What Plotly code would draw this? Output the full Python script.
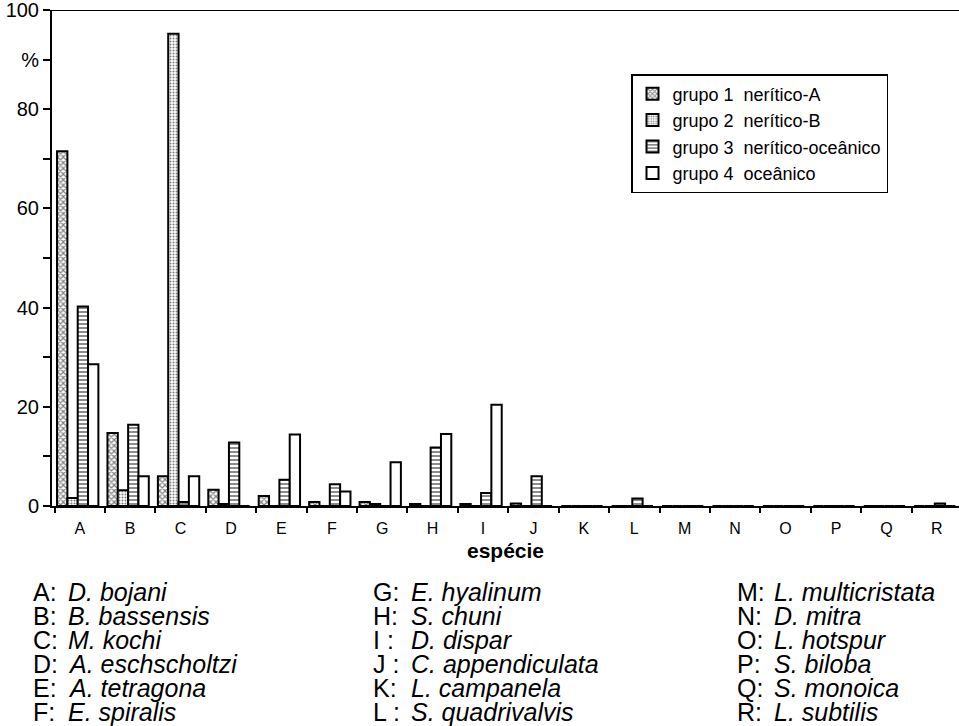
import plotly.graph_objects as go

categories = list("ABCDEFGHIJKLMNOPQR")
grupo1 = [71.5, 14.7, 6.0, 3.3, 2.0, 0.8, 0.8, 0.4, 0.4, 0.5, 0, 0, 0, 0, 0, 0, 0, 0]
grupo2 = [1.6, 3.2, 95.2, 0.4, 0, 0, 0.4, 0, 0, 0, 0, 0, 0, 0, 0, 0, 0, 0]
grupo3 = [40.2, 16.4, 0.8, 12.8, 5.3, 4.4, 0, 11.8, 2.6, 6.0, 0, 1.5, 0, 0, 0, 0, 0, 0.5]
grupo4 = [28.6, 6.0, 6.0, 0, 14.4, 2.9, 8.8, 14.5, 20.4, 0, 0, 0, 0, 0, 0, 0, 0, 0]
series_names = ["grupo 1\u00a0\u00a0nerítico-A", "grupo 2\u00a0\u00a0nerítico-B",
                "grupo 3\u00a0\u00a0nerítico-oceânico", "grupo 4\u00a0\u00a0oceânico"]
species_col1 = [("A:", "D. bojani"), ("B:", "B. bassensis"), ("C:", "M. kochi"),
                ("D:", "A. eschscholtzi"), ("E:", "A. tetragona"), ("F:", "E. spiralis")]
species_col2 = [("G:", "E. hyalinum"), ("H:", "S. chuni"), ("I :", "D. dispar"),
                ("J :", "C. appendiculata"), ("K:", "L. campanela"), ("L :", "S. quadrivalvis")]
species_col3 = [("M:", "L. multicristata"), ("N:", "D. mitra"), ("O:", "L. hotspur"),
                ("P:", "S. biloba"), ("Q:", "S. monoica"), ("R:", "L. subtilis")]
y_tickvals = [0, 10, 20, 30, 40, 50, 60, 70, 80, 90, 100]
y_ticktext = ["0", "", "20", "", "40", "", "60", "", "80", "%", "100"]

FONT = "Liberation Sans, Arial, Helvetica, sans-serif"
W, H = 959, 726
L, R, T, B = 52, 0, 10, 220
PW, PH = W - L - R, H - T - B

def px2x(px):
    return (px - L) / PW

def py2y(py):
    return (H - B - py) / PH

x_idx = list(range(len(categories)))
patterns = [
    dict(shape="x", size=4, solidity=0.5, fgcolor="black", bgcolor="white"),
    dict(shape=".", size=3, solidity=0.35, fgcolor="black", bgcolor="white"),
    dict(shape="-", size=4, solidity=0.45, fgcolor="black", bgcolor="white"),
    dict(shape="", fgcolor="black", bgcolor="white"),
]
offsets = [-0.45, -0.245, -0.04, 0.165]
fig = go.Figure()
for vals, name, pat, off in zip([grupo1, grupo2, grupo3, grupo4], series_names, patterns, offsets):
    fig.add_trace(go.Bar(
        x=x_idx, y=vals, name=name, width=0.205, offset=off,
        marker=dict(color="white", line=dict(color="black", width=2), pattern=pat),
    ))

annotations = []
for col, (lx, nx) in zip([species_col1, species_col2, species_col3],
                         [(31, 66), (371, 409), (735, 772)]):
    for i, (lab, name) in enumerate(col):
        yc = 592 + 24 * i
        annotations.append(dict(x=px2x(lx), y=py2y(yc), xref="paper", yref="paper",
                                text=lab, showarrow=False, xanchor="left", yanchor="middle",
                                font=dict(size=25, family=FONT, color="black")))
        annotations.append(dict(x=px2x(nx), y=py2y(yc), xref="paper", yref="paper",
                                text="<i>" + name + "</i>", showarrow=False, xanchor="left",
                                yanchor="middle", font=dict(size=25, family=FONT, color="black")))

fig.update_layout(
    width=W, height=H, autosize=False,
    margin=dict(l=L, r=R, t=T, b=B, autoexpand=False),
    paper_bgcolor="white", plot_bgcolor="white",
    barmode="overlay",
    font=dict(family=FONT, color="black"),
    showlegend=True,
    legend=dict(x=px2x(631), y=py2y(74), xanchor="left", yanchor="top",
                bordercolor="black", borderwidth=1.5, bgcolor="white",
                font=dict(size=18, family=FONT, color="black"),
                tracegroupgap=0),
    xaxis=dict(range=[-0.55, 17.44], tickmode="array", tickvals=x_idx, ticktext=categories,
               ticks="", ticklabelstandoff=7, showgrid=False, zeroline=False,
               showline=True, linecolor="black", linewidth=2,
               tickfont=dict(size=16, family=FONT, color="black"),
               minor=dict(tick0=-0.5, dtick=1, ticks="outside", ticklen=5, tickwidth=1.5,
                          tickcolor="black", showgrid=False),
               title=dict(text="<b>espécie</b>", font=dict(size=21, family=FONT, color="black"),
                          standoff=7)),
    yaxis=dict(range=[0, 100], tickmode="array", tickvals=y_tickvals, ticktext=y_ticktext,
               ticks="outside", ticklen=7, tickwidth=1.5, tickcolor="black",
               ticklabeloverflow="allow",
               showgrid=False, zeroline=False, showline=True, linecolor="black", linewidth=2,
               tickfont=dict(size=20, family=FONT, color="black")),
    shapes=[dict(type="line", xref="paper", yref="y", x0=0, x1=1, y0=100, y1=100,
                 line=dict(color="black", width=2))],
    annotations=annotations,
)
fig.write_html("out.html", config={"displayModeBar": False},
               post_script="document.body.style.margin='0';")
